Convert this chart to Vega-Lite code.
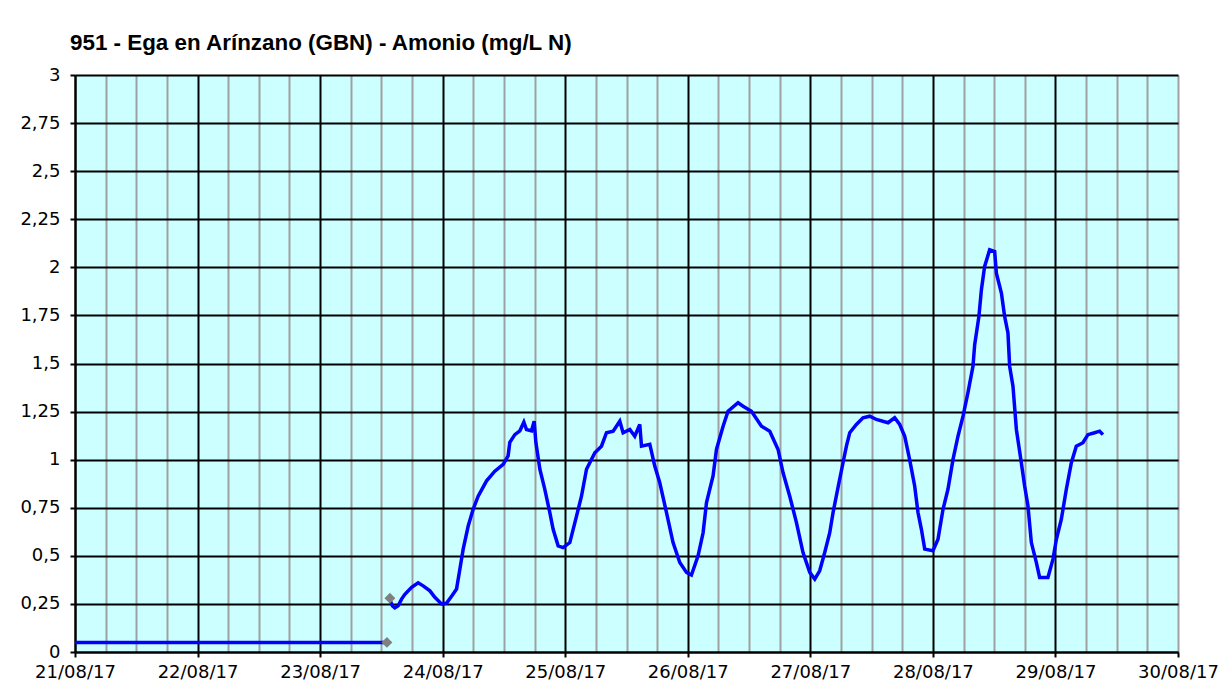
{
  "$schema": "https://vega.github.io/schema/vega-lite/v6.json",
  "width": 1103,
  "height": 577,
  "autosize": {"type": "none"},
  "padding": {"left": 75, "top": 75, "right": 44, "bottom": 34},
  "background": "#ffffff",
  "title": {
    "text": "951 - Ega en Arínzano (GBN) - Amonio (mg/L N)",
    "anchor": "start",
    "frame": "group",
    "font": "Liberation Sans",
    "fontSize": 22.4,
    "fontWeight": "bold",
    "color": "#000000",
    "dx": -5,
    "offset": 12
  },
  "config": {"view": {"fill": "#ccffff", "stroke": null}},
  "data": {
    "values": [
      {"series": "flat", "t": "2017-08-21T00:00", "v": 0.05},
      {"series": "flat", "t": "2017-08-23T13:00", "v": 0.05},
      {"series": "marker", "t": "2017-08-23T13:05", "v": 0.05},
      {"series": "marker", "t": "2017-08-23T13:40", "v": 0.28},
      {"series": "curve", "t": "2017-08-23T13:40", "v": 0.27},
      {"series": "curve", "t": "2017-08-23T14:10", "v": 0.24},
      {"series": "curve", "t": "2017-08-23T14:38", "v": 0.23},
      {"series": "curve", "t": "2017-08-23T15:17", "v": 0.24},
      {"series": "curve", "t": "2017-08-23T15:57", "v": 0.275},
      {"series": "curve", "t": "2017-08-23T16:36", "v": 0.30},
      {"series": "curve", "t": "2017-08-23T17:55", "v": 0.336},
      {"series": "curve", "t": "2017-08-23T19:12", "v": 0.36},
      {"series": "curve", "t": "2017-08-23T20:11", "v": 0.344},
      {"series": "curve", "t": "2017-08-23T21:30", "v": 0.318},
      {"series": "curve", "t": "2017-08-23T22:28", "v": 0.284},
      {"series": "curve", "t": "2017-08-23T23:47", "v": 0.25},
      {"series": "curve", "t": "2017-08-24T00:46", "v": 0.254},
      {"series": "curve", "t": "2017-08-24T01:45", "v": 0.29},
      {"series": "curve", "t": "2017-08-24T02:43", "v": 0.327},
      {"series": "curve", "t": "2017-08-24T03:22", "v": 0.43},
      {"series": "curve", "t": "2017-08-24T04:01", "v": 0.535},
      {"series": "curve", "t": "2017-08-24T05:00", "v": 0.655},
      {"series": "curve", "t": "2017-08-24T05:58", "v": 0.742},
      {"series": "curve", "t": "2017-08-24T06:57", "v": 0.81},
      {"series": "curve", "t": "2017-08-24T08:36", "v": 0.89},
      {"series": "curve", "t": "2017-08-24T10:13", "v": 0.94},
      {"series": "curve", "t": "2017-08-24T11:51", "v": 0.976},
      {"series": "curve", "t": "2017-08-24T12:49", "v": 1.02},
      {"series": "curve", "t": "2017-08-24T13:09", "v": 1.09},
      {"series": "curve", "t": "2017-08-24T14:08", "v": 1.13},
      {"series": "curve", "t": "2017-08-24T15:07", "v": 1.15},
      {"series": "curve", "t": "2017-08-24T15:54", "v": 1.195},
      {"series": "curve", "t": "2017-08-24T16:25", "v": 1.157},
      {"series": "curve", "t": "2017-08-24T17:24", "v": 1.15},
      {"series": "curve", "t": "2017-08-24T17:55", "v": 1.20},
      {"series": "curve", "t": "2017-08-24T18:15", "v": 1.09},
      {"series": "curve", "t": "2017-08-24T19:02", "v": 0.95},
      {"series": "curve", "t": "2017-08-24T20:00", "v": 0.846},
      {"series": "curve", "t": "2017-08-24T20:59", "v": 0.725},
      {"series": "curve", "t": "2017-08-24T21:38", "v": 0.638},
      {"series": "curve", "t": "2017-08-24T22:37", "v": 0.552},
      {"series": "curve", "t": "2017-08-24T23:35", "v": 0.543},
      {"series": "curve", "t": "2017-08-25T00:54", "v": 0.569},
      {"series": "curve", "t": "2017-08-25T02:09", "v": 0.70},
      {"series": "curve", "t": "2017-08-25T03:11", "v": 0.81},
      {"series": "curve", "t": "2017-08-25T04:10", "v": 0.95},
      {"series": "curve", "t": "2017-08-25T05:48", "v": 1.036},
      {"series": "curve", "t": "2017-08-25T07:06", "v": 1.07},
      {"series": "curve", "t": "2017-08-25T08:05", "v": 1.14},
      {"series": "curve", "t": "2017-08-25T09:23", "v": 1.148},
      {"series": "curve", "t": "2017-08-25T10:41", "v": 1.20},
      {"series": "curve", "t": "2017-08-25T11:20", "v": 1.14},
      {"series": "curve", "t": "2017-08-25T12:39", "v": 1.157},
      {"series": "curve", "t": "2017-08-25T13:37", "v": 1.122},
      {"series": "curve", "t": "2017-08-25T14:36", "v": 1.183},
      {"series": "curve", "t": "2017-08-25T14:56", "v": 1.07},
      {"series": "curve", "t": "2017-08-25T16:34", "v": 1.08},
      {"series": "curve", "t": "2017-08-25T17:32", "v": 0.967},
      {"series": "curve", "t": "2017-08-25T18:31", "v": 0.88},
      {"series": "curve", "t": "2017-08-25T19:50", "v": 0.725},
      {"series": "curve", "t": "2017-08-25T21:07", "v": 0.569},
      {"series": "curve", "t": "2017-08-25T22:26", "v": 0.465},
      {"series": "curve", "t": "2017-08-25T23:45", "v": 0.414},
      {"series": "curve", "t": "2017-08-26T00:43", "v": 0.40},
      {"series": "curve", "t": "2017-08-26T02:01", "v": 0.50},
      {"series": "curve", "t": "2017-08-26T03:00", "v": 0.62},
      {"series": "curve", "t": "2017-08-26T03:40", "v": 0.777},
      {"series": "curve", "t": "2017-08-26T04:57", "v": 0.915},
      {"series": "curve", "t": "2017-08-26T05:37", "v": 1.053},
      {"series": "curve", "t": "2017-08-26T06:55", "v": 1.174},
      {"series": "curve", "t": "2017-08-26T07:53", "v": 1.252},
      {"series": "curve", "t": "2017-08-26T09:51", "v": 1.296},
      {"series": "curve", "t": "2017-08-26T10:50", "v": 1.278},
      {"series": "curve", "t": "2017-08-26T12:28", "v": 1.252},
      {"series": "curve", "t": "2017-08-26T14:26", "v": 1.174},
      {"series": "curve", "t": "2017-08-26T16:03", "v": 1.148},
      {"series": "curve", "t": "2017-08-26T17:41", "v": 1.053},
      {"series": "curve", "t": "2017-08-26T18:39", "v": 0.933},
      {"series": "curve", "t": "2017-08-26T19:58", "v": 0.81},
      {"series": "curve", "t": "2017-08-26T21:17", "v": 0.673},
      {"series": "curve", "t": "2017-08-26T22:34", "v": 0.517},
      {"series": "curve", "t": "2017-08-26T23:53", "v": 0.414},
      {"series": "curve", "t": "2017-08-27T00:52", "v": 0.379},
      {"series": "curve", "t": "2017-08-27T01:50", "v": 0.422},
      {"series": "curve", "t": "2017-08-27T02:49", "v": 0.517},
      {"series": "curve", "t": "2017-08-27T03:48", "v": 0.62},
      {"series": "curve", "t": "2017-08-27T04:27", "v": 0.725},
      {"series": "curve", "t": "2017-08-27T05:25", "v": 0.855},
      {"series": "curve", "t": "2017-08-27T06:24", "v": 0.984},
      {"series": "curve", "t": "2017-08-27T07:04", "v": 1.07},
      {"series": "curve", "t": "2017-08-27T07:43", "v": 1.14},
      {"series": "curve", "t": "2017-08-27T09:01", "v": 1.183},
      {"series": "curve", "t": "2017-08-27T10:19", "v": 1.218},
      {"series": "curve", "t": "2017-08-27T11:38", "v": 1.226},
      {"series": "curve", "t": "2017-08-27T12:56", "v": 1.209},
      {"series": "curve", "t": "2017-08-27T15:13", "v": 1.192},
      {"series": "curve", "t": "2017-08-27T16:31", "v": 1.218},
      {"series": "curve", "t": "2017-08-27T17:30", "v": 1.183},
      {"series": "curve", "t": "2017-08-27T18:29", "v": 1.122},
      {"series": "curve", "t": "2017-08-27T19:27", "v": 1.0},
      {"series": "curve", "t": "2017-08-27T20:26", "v": 0.863},
      {"series": "curve", "t": "2017-08-27T21:05", "v": 0.725},
      {"series": "curve", "t": "2017-08-27T21:45", "v": 0.638},
      {"series": "curve", "t": "2017-08-27T22:24", "v": 0.535},
      {"series": "curve", "t": "2017-08-28T00:01", "v": 0.526},
      {"series": "curve", "t": "2017-08-28T01:00", "v": 0.586},
      {"series": "curve", "t": "2017-08-28T01:59", "v": 0.742},
      {"series": "curve", "t": "2017-08-28T02:57", "v": 0.846},
      {"series": "curve", "t": "2017-08-28T03:56", "v": 1.0},
      {"series": "curve", "t": "2017-08-28T04:55", "v": 1.122},
      {"series": "curve", "t": "2017-08-28T05:54", "v": 1.226},
      {"series": "curve", "t": "2017-08-28T06:52", "v": 1.348},
      {"series": "curve", "t": "2017-08-28T07:51", "v": 1.486},
      {"series": "curve", "t": "2017-08-28T08:11", "v": 1.598},
      {"series": "curve", "t": "2017-08-28T09:01", "v": 1.745},
      {"series": "curve", "t": "2017-08-28T09:30", "v": 1.884},
      {"series": "curve", "t": "2017-08-28T10:08", "v": 2.005},
      {"series": "curve", "t": "2017-08-28T11:07", "v": 2.091},
      {"series": "curve", "t": "2017-08-28T12:06", "v": 2.082},
      {"series": "curve", "t": "2017-08-28T12:26", "v": 1.97},
      {"series": "curve", "t": "2017-08-28T13:25", "v": 1.866},
      {"series": "curve", "t": "2017-08-28T14:03", "v": 1.745},
      {"series": "curve", "t": "2017-08-28T14:42", "v": 1.659},
      {"series": "curve", "t": "2017-08-28T15:02", "v": 1.486},
      {"series": "curve", "t": "2017-08-28T15:41", "v": 1.382},
      {"series": "curve", "t": "2017-08-28T16:21", "v": 1.157},
      {"series": "curve", "t": "2017-08-28T17:19", "v": 0.984},
      {"series": "curve", "t": "2017-08-28T17:58", "v": 0.863},
      {"series": "curve", "t": "2017-08-28T18:37", "v": 0.76},
      {"series": "curve", "t": "2017-08-28T19:17", "v": 0.569},
      {"series": "curve", "t": "2017-08-28T20:16", "v": 0.465},
      {"series": "curve", "t": "2017-08-28T20:54", "v": 0.388},
      {"series": "curve", "t": "2017-08-28T22:32", "v": 0.388},
      {"series": "curve", "t": "2017-08-28T23:31", "v": 0.483},
      {"series": "curve", "t": "2017-08-29T00:11", "v": 0.586},
      {"series": "curve", "t": "2017-08-29T01:09", "v": 0.69},
      {"series": "curve", "t": "2017-08-29T02:08", "v": 0.846},
      {"series": "curve", "t": "2017-08-29T03:07", "v": 0.984},
      {"series": "curve", "t": "2017-08-29T04:05", "v": 1.07},
      {"series": "curve", "t": "2017-08-29T05:23", "v": 1.088},
      {"series": "curve", "t": "2017-08-29T06:22", "v": 1.13},
      {"series": "curve", "t": "2017-08-29T07:40", "v": 1.14},
      {"series": "curve", "t": "2017-08-29T08:39", "v": 1.148},
      {"series": "curve", "t": "2017-08-29T09:18", "v": 1.13}
    ]
  },
  "encoding": {
    "x": {
      "field": "t",
      "type": "temporal",
      "scale": {
        "domain": [
          {"year": 2017, "month": 8, "date": 21},
          {"year": 2017, "month": 8, "date": 30}
        ],
        "nice": false
      },
      "axis": {
        "title": null,
        "values": [
          {"year": 2017, "month": 8, "date": 21, "hours": 0},
          {"year": 2017, "month": 8, "date": 21, "hours": 6},
          {"year": 2017, "month": 8, "date": 21, "hours": 12},
          {"year": 2017, "month": 8, "date": 21, "hours": 18},
          {"year": 2017, "month": 8, "date": 22, "hours": 0},
          {"year": 2017, "month": 8, "date": 22, "hours": 6},
          {"year": 2017, "month": 8, "date": 22, "hours": 12},
          {"year": 2017, "month": 8, "date": 22, "hours": 18},
          {"year": 2017, "month": 8, "date": 23, "hours": 0},
          {"year": 2017, "month": 8, "date": 23, "hours": 6},
          {"year": 2017, "month": 8, "date": 23, "hours": 12},
          {"year": 2017, "month": 8, "date": 23, "hours": 18},
          {"year": 2017, "month": 8, "date": 24, "hours": 0},
          {"year": 2017, "month": 8, "date": 24, "hours": 6},
          {"year": 2017, "month": 8, "date": 24, "hours": 12},
          {"year": 2017, "month": 8, "date": 24, "hours": 18},
          {"year": 2017, "month": 8, "date": 25, "hours": 0},
          {"year": 2017, "month": 8, "date": 25, "hours": 6},
          {"year": 2017, "month": 8, "date": 25, "hours": 12},
          {"year": 2017, "month": 8, "date": 25, "hours": 18},
          {"year": 2017, "month": 8, "date": 26, "hours": 0},
          {"year": 2017, "month": 8, "date": 26, "hours": 6},
          {"year": 2017, "month": 8, "date": 26, "hours": 12},
          {"year": 2017, "month": 8, "date": 26, "hours": 18},
          {"year": 2017, "month": 8, "date": 27, "hours": 0},
          {"year": 2017, "month": 8, "date": 27, "hours": 6},
          {"year": 2017, "month": 8, "date": 27, "hours": 12},
          {"year": 2017, "month": 8, "date": 27, "hours": 18},
          {"year": 2017, "month": 8, "date": 28, "hours": 0},
          {"year": 2017, "month": 8, "date": 28, "hours": 6},
          {"year": 2017, "month": 8, "date": 28, "hours": 12},
          {"year": 2017, "month": 8, "date": 28, "hours": 18},
          {"year": 2017, "month": 8, "date": 29, "hours": 0},
          {"year": 2017, "month": 8, "date": 29, "hours": 6},
          {"year": 2017, "month": 8, "date": 29, "hours": 12},
          {"year": 2017, "month": 8, "date": 29, "hours": 18},
          {"year": 2017, "month": 8, "date": 30, "hours": 0}
        ],
        "grid": true,
        "gridColor": {
          "condition": {"test": "hours(datum.value) == 0 && date(datum.value) != 30", "value": "#000000"},
          "value": "#a0a0a0"
        },
        "gridWidth": 2,
        "gridOpacity": 1,
        "labelExpr": "hours(datum.value) == 0 ? timeFormat(datum.value, '%d/%m/%y') : ''",
        "labelFont": "DejaVu Sans",
        "labelFontSize": 18,
        "labelColor": "#000000",
        "labelPadding": 6,
        "labelOverlap": false,
        "labelFlush": false,
        "labelBound": false,
        "tickColor": {
          "condition": {"test": "hours(datum.value) == 0", "value": "#000000"},
          "value": "transparent"
        },
        "tickWidth": 2,
        "tickSize": 5,
        "domainColor": "#000000",
        "domainWidth": 2
      }
    },
    "y": {
      "field": "v",
      "type": "quantitative",
      "scale": {"domain": [0, 3], "nice": false},
      "axis": {
        "title": null,
        "values": [0, 0.25, 0.5, 0.75, 1, 1.25, 1.5, 1.75, 2, 2.25, 2.5, 2.75, 3],
        "grid": true,
        "gridColor": "#000000",
        "gridWidth": 2,
        "gridOpacity": 1,
        "labelExpr": "replace(format(datum.value, '.2~f'), '.', ',')",
        "labelFont": "DejaVu Sans",
        "labelFontSize": 18,
        "labelColor": "#000000",
        "labelPadding": 10,
        "tickColor": "#000000",
        "tickWidth": 2,
        "tickSize": 5,
        "domainColor": "#000000",
        "domainWidth": 2
      }
    }
  },
  "layer": [
    {
      "transform": [{"filter": "datum.series != 'marker'"}],
      "mark": {"type": "line", "color": "#0000ff", "strokeWidth": 3.5},
      "encoding": {"detail": {"field": "series", "type": "nominal"}}
    },
    {
      "transform": [{"filter": "datum.series == 'marker'"}],
      "mark": {"type": "point", "shape": "diamond", "filled": true, "color": "#808080", "size": 120, "opacity": 1}
    }
  ]
}
